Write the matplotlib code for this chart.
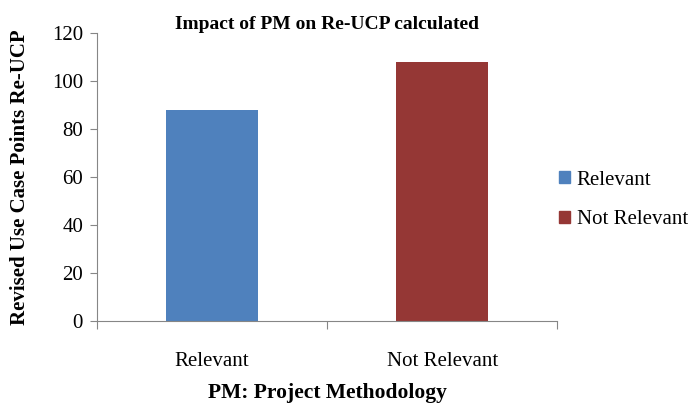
import numpy as np
import matplotlib
matplotlib.use('Agg')
from matplotlib import pyplot as plt
from matplotlib.patches import Patch

categories = ['Relevant', 'Not Relevant']
values = [88, 108]
colors = ['#4F81BD', '#953735']
y_ticks = [0, 20, 40, 60, 80, 100, 120]

plt.rcParams['font.family'] = ['Liberation Serif', 'DejaVu Serif']

fig = plt.figure(figsize=(6.88, 4.08), dpi=100)
ax = fig.add_axes([0.141, 0.213, 0.669, 0.706])

x = np.arange(len(categories))
ax.bar(x, values, width=0.4, color=colors)

ax.set_xlim(-0.5, 1.5)
ax.set_ylim(0, 120)
ax.set_yticks(y_ticks)
ax.set_xticks([-0.5, 0.5, 1.5])
ax.set_xticklabels([])
ax.set_xticks(x, minor=True)
ax.set_xticklabels(categories, minor=True)
ax.tick_params(axis='x', which='minor', length=0, pad=22, labelsize=15)
ax.tick_params(axis='x', which='major', length=6, color='#868686', direction='out')
ax.tick_params(axis='y', length=5, color='#868686', labelsize=15, pad=5)

for s in ['top', 'right']:
    ax.spines[s].set_visible(False)
for s in ['left', 'bottom']:
    ax.spines[s].set_color('#868686')

ax.set_title('Impact of PM on Re-UCP calculated', fontsize=14, fontweight='bold', pad=2)
ax.set_ylabel('Revised Use Case Points Re-UCP', fontsize=15, fontweight='bold', labelpad=16)
ax.set_xlabel('PM: Project Methodology', fontsize=15.5, fontweight='bold', labelpad=9)

handles = [Patch(color=c) for c in colors]
fig.legend(handles, categories, loc='center left', bbox_to_anchor=(0.785, 0.51),
           frameon=False, fontsize=15, handlelength=0.55, handleheight=0.55,
           handletextpad=0.3, labelspacing=1.0)

fig.savefig('out.png', dpi=100)
